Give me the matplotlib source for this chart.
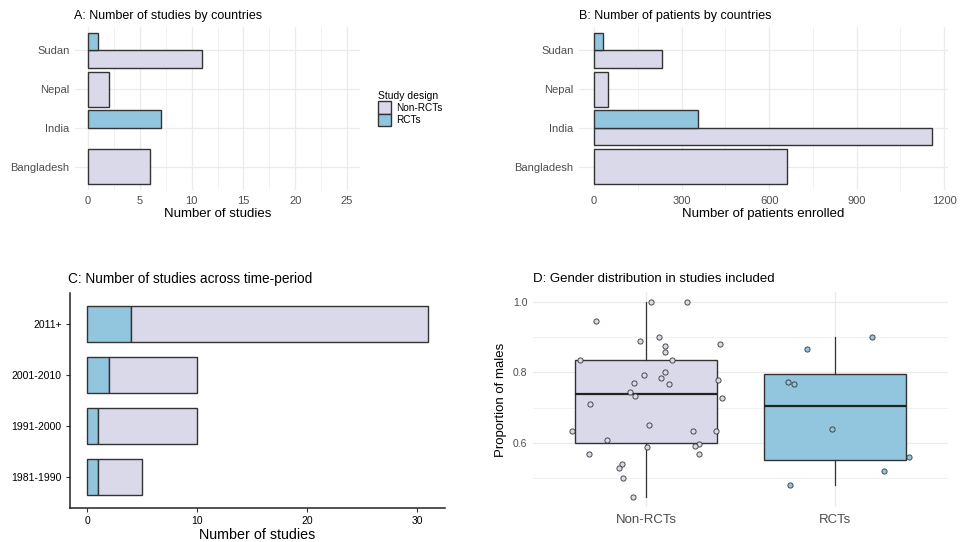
import matplotlib
matplotlib.use('Agg')
import matplotlib.pyplot as plt
from matplotlib.patches import Patch
from matplotlib.ticker import MultipleLocator
import numpy as np

plt.rcParams['font.family'] = ['Liberation Sans', 'DejaVu Sans']

# data
countries = ['Bangladesh', 'India', 'Nepal', 'Sudan']
studies_non = [6, 0, 2, 11]
studies_rct = [None, 7, None, 1]
patients_non = [660, 1157, 46, 234]
patients_rct = [None, 357, None, 29]

periods = ['1981-1990', '1991-2000', '2001-2010', '2011+']
period_rct = [1, 1, 2, 4]
period_non = [4, 9, 8, 27]

males_non = [0.945, 1.0, 1.0, 0.890, 0.901, 0.876, 0.858, 0.880, 0.835, 0.835,
             0.801, 0.794, 0.783, 0.770, 0.766, 0.779, 0.745, 0.732, 0.727, 0.711,
             0.650, 0.635, 0.633, 0.633, 0.609, 0.598, 0.593, 0.589, 0.568, 0.568,
             0.541, 0.529, 0.501, 0.447]
jitter_non = [-0.268, 0.025, 0.215, -0.032, 0.070, 0.099, 0.102, 0.393, -0.352, 0.137,
              0.102, -0.012, 0.076, -0.063, 0.120, 0.382, -0.086, -0.058, 0.400, -0.298,
              0.016, -0.393, 0.248, 0.371, -0.208, 0.280, 0.259, 0.005, -0.301, 0.278,
              -0.127, -0.146, -0.121, -0.069]
males_rct = [0.867, 0.901, 0.773, 0.768, 0.640, 0.561, 0.520, 0.481]
jitter_rct = [-0.146, 0.195, -0.246, -0.215, -0.014, 0.394, 0.259, -0.236]

NON_COL = '#D9D9EA'
RCT_COL = '#92C5DE'
EDGE = '#333333'
GRID = '#EBEBEB'
TICK = '#4D4D4D'

W, H = 968, 542
fig = plt.figure(figsize=(W / 100, H / 100), dpi=100)


def add_ax(x0, y0, x1, y1):
    return fig.add_axes([x0 / W, 1 - y1 / H, (x1 - x0) / W, (y1 - y0) / H])


def minimal(ax):
    for s in ax.spines.values():
        s.set_visible(False)
    ax.tick_params(which='both', length=0, labelsize=8, labelcolor=TICK, pad=4)
    ax.grid(which='major', color=GRID, lw=0.9)
    ax.grid(which='minor', axis='x', color=GRID, lw=0.5)
    ax.set_axisbelow(True)


def dodge_bars(ax, non, rct):
    y = np.arange(len(countries))
    for i in range(len(countries)):
        if rct[i] is None:
            ax.barh(y[i], non[i], height=0.9, color=NON_COL, edgecolor=EDGE, lw=1)
        else:
            if non[i]:
                ax.barh(y[i] - 0.225, non[i], height=0.45, color=NON_COL, edgecolor=EDGE, lw=1)
            ax.barh(y[i] + 0.225, rct[i], height=0.45, color=RCT_COL, edgecolor=EDGE, lw=1)
    ax.set_yticks(y)
    ax.set_yticklabels(countries)
    ax.set_ylim(-0.6, len(countries) - 0.4)


# A
axA = add_ax(75, 27, 360, 190)
minimal(axA)
dodge_bars(axA, studies_non, studies_rct)
axA.set_xlim(-1.25, 26.25)
axA.xaxis.set_major_locator(MultipleLocator(5))
axA.xaxis.set_minor_locator(MultipleLocator(2.5))
axA.set_xlabel('Number of studies', fontsize=9.5, labelpad=2)
axA.set_title('A: Number of studies by countries', fontsize=9, loc='left', x=-0.005, pad=6)

# legend
leg = fig.legend(handles=[Patch(facecolor=NON_COL, edgecolor=EDGE, lw=1, label='Non-RCTs'),
                          Patch(facecolor=RCT_COL, edgecolor=EDGE, lw=1, label='RCTs')],
                 title='Study design', loc='upper left', bbox_to_anchor=(373 / W, 1 - 86 / H),
                 frameon=False, fontsize=7.2, title_fontsize=7.5, handlelength=1.3,
                 handleheight=1.55, handletextpad=0.5, labelspacing=0.0, borderpad=0)
leg._legend_box.align = 'left'

# B
axB = add_ax(579, 27, 948, 190)
minimal(axB)
dodge_bars(axB, patients_non, patients_rct)
axB.set_xlim(-52, 1213)
axB.xaxis.set_major_locator(MultipleLocator(300))
axB.xaxis.set_minor_locator(MultipleLocator(150))
axB.set_xlabel('Number of patients enrolled', fontsize=9.5, labelpad=2)
axB.set_title('B: Number of patients by countries', fontsize=9, loc='left', pad=6)

# C
axC = add_ax(70, 293, 445, 508)
yc = np.arange(len(periods))
axC.barh(yc, period_rct, height=0.7, color=RCT_COL, edgecolor=EDGE, lw=1)
axC.barh(yc, period_non, left=period_rct, height=0.7, color=NON_COL, edgecolor=EDGE, lw=1)
axC.set_yticks(yc)
axC.set_yticklabels(periods)
axC.set_ylim(-0.6, 3.6)
axC.set_xlim(-1.55, 32.55)
axC.xaxis.set_major_locator(MultipleLocator(10))
for s in ['top', 'right']:
    axC.spines[s].set_visible(False)
for s in ['left', 'bottom']:
    axC.spines[s].set_linewidth(1.1)
    axC.spines[s].set_color('#222222')
axC.tick_params(labelsize=7.5, length=3, width=0.8, color='#333333', pad=3)
axC.set_xlabel('Number of studies', fontsize=10.3, labelpad=1)
axC.set_title('C: Number of studies across time-period', fontsize=9.8, loc='left', x=-0.005, pad=7)

# D
axD = add_ax(533, 292, 948, 507)
minimal(axD)
axD.tick_params(axis='y', labelsize=7.5)
axD.grid(which='minor', axis='y', color=GRID, lw=0.5)
bp = axD.boxplot([males_non, males_rct], positions=[0, 1], widths=0.75, patch_artist=True,
                 whis=1.5, showfliers=False, showcaps=False,
                 medianprops=dict(color='#222222', lw=1.6),
                 whiskerprops=dict(color=EDGE, lw=0.9),
                 boxprops=dict(edgecolor=EDGE, lw=1))
for patch, col in zip(bp['boxes'], [NON_COL, RCT_COL]):
    patch.set_facecolor(col)
axD.scatter(np.array(jitter_non), males_non, s=14, facecolor=NON_COL, edgecolor=EDGE, lw=0.6, zorder=5)
axD.scatter(1 + np.array(jitter_rct), males_rct, s=14, facecolor=RCT_COL, edgecolor=EDGE, lw=0.6, zorder=5)
axD.set_xlim(-0.6, 1.6)
axD.set_ylim(0.419, 1.028)
axD.set_xticks([0, 1])
axD.set_xticklabels(['Non-RCTs', 'RCTs'])
axD.yaxis.set_major_locator(MultipleLocator(0.2))
axD.yaxis.set_minor_locator(MultipleLocator(0.1))
axD.yaxis.set_major_formatter(matplotlib.ticker.FormatStrFormatter('%.1f'))
axD.tick_params(axis='x', labelsize=9.5, pad=5)
axD.set_ylabel('Proportion of males', fontsize=9.5, labelpad=4)
axD.set_title('D: Gender distribution in studies included', fontsize=9.5, loc='left', pad=7)

fig.savefig('out.png', dpi=100, facecolor='white')
